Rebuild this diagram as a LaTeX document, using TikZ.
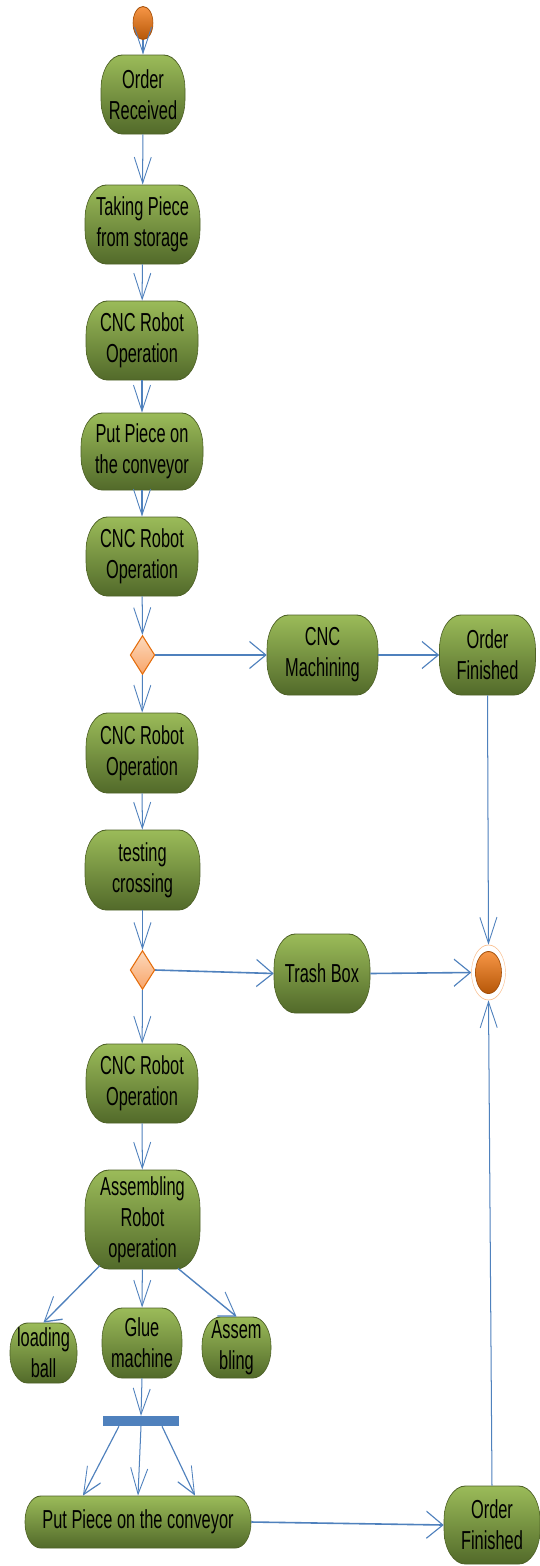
\documentclass[tikz,border=0pt]{standalone}
\usepackage{fontspec}
\setmainfont{Liberation Sans}
\usetikzlibrary{arrows.meta,shapes.geometric,calc}
\definecolor{conn}{HTML}{4F81BD}
\definecolor{gtop}{HTML}{9BBB59}
\definecolor{gbot}{HTML}{526A2A}
\definecolor{gline}{HTML}{4F6228}
\definecolor{otop}{HTML}{F79646}
\definecolor{obot}{HTML}{B65708}
\definecolor{oline}{HTML}{A34E08}
\definecolor{dtop}{HTML}{FCD9BC}
\definecolor{dbot}{HTML}{F8A56A}
\definecolor{dline}{HTML}{E46C0A}
\definecolor{ring}{HTML}{FAC090}
\tikzset{
  act/.style={rectangle, draw=gline, line width=0.9pt, top color=gtop, bottom color=gbot,
    rounded corners=#1, inner sep=0pt, align=center, text=black,
    font=\fontsize{26}{31}\selectfont},
  act/.default=34pt,
  sz/.style 2 args={minimum width=#1*1.5873pt, minimum height=#2*1pt},
  flow/.style={draw=conn, line width=1.6pt,
    -{Straight Barb[length=26pt,width=27pt,line width=1.3pt]}},
  dec/.style={diamond, draw=dline, line width=1.4pt, top color=dtop, bottom color=dbot,
    minimum width=39pt, minimum height=39pt, inner sep=0pt, aspect=1},
  startdot/.style={ellipse, draw=oline, line width=0.9pt, top color=otop, bottom color=obot,
    minimum width=31.7pt, minimum height=33pt, inner sep=0pt},
  endring/.style={ellipse, draw=ring, line width=0.7pt, fill=white,
    minimum width=54pt, minimum height=55pt, inner sep=0pt},
  bar/.style={rectangle, fill=conn, inner sep=0pt}
}
\begin{document}
\begin{tikzpicture}
\path[fill=white, use as bounding box] (0pt,0pt) rectangle (540pt,-1566pt);
\begin{scope}[transform canvas={xscale=0.63}, x=1.5873pt, y=-1pt]
  % nodes
  \node[startdot] (start) at (143,23) {};
  \node[act, sz={84}{79}] (or) at (143,94.5) {Order\\Received};
  \node[act, sz={115}{79}] (take) at (142.5,224.5) {Taking Piece\\from storage};
  \node[act, sz={112}{79}] (cnc1) at (142,340.5) {CNC Robot\\Operation};
  \node[act, sz={122}{77}] (put1) at (142,451.5) {Put Piece on\\the conveyor};
  \node[act, sz={112}{79}] (cnc2) at (142,556.5) {CNC Robot\\Operation};
  \node[dec] (d1) at (142.5,655) {};
  \node[act, sz={111}{80}] (mach) at (322.5,655) {CNC\\Machining};
  \node[act, sz={96}{80}] (of1) at (487.5,655) {Order\\Finished};
  \node[act, sz={112}{80}] (cnc3) at (142,753) {CNC Robot\\Operation};
  \node[act, sz={115}{80}] (test) at (142.5,870) {testing\\crossing};
  \node[dec] (d2) at (142.5,970) {};
  \node[act, sz={96}{79}] (trash) at (322,973.5) {Trash Box};
  \node[endring] (endo) at (488.5,972.5) {};
  \node[startdot, minimum width=41.3pt, minimum height=42pt] (endi) at (488.5,972.5) {};
  \node[act, sz={112}{79}] (cnc4) at (142,1083.5) {CNC Robot\\Operation};
  \node[act=38pt, sz={115}{99}] (aro) at (142.5,1219.5) {Assembling\\Robot\\operation};
  \node[act=28pt, sz={67}{60}] (load) at (43.5,1353) {loading\\ball};
  \node[act=32pt, sz={80}{70}] (glue) at (142,1343) {Glue\\machine};
  \node[act=29pt, sz={69}{61}] (asm) at (236.5,1347.5) {Assem\\bling};
  \node[bar, sz={76}{10}] (bar) at (141,1421) {};
  \node[act=25pt, sz={226}{52}] (put2) at (138,1522) {Put Piece on the conveyor};
  \node[act, sz={96}{78}] (of2) at (492,1525) {Order\\Finished};
  % connectors
  \draw[flow] (start) -- (or);
  \draw[flow] (or) -- (take);
  \draw[flow] (take) -- (cnc1);
  \draw[flow] (cnc1) -- (put1);
  \draw[flow] (put1) -- (cnc2);
  \draw[flow] (cnc2) -- (d1);
  \draw[flow] (d1) -- (mach);
  \draw[flow] (mach) -- (of1);
  \draw[flow] (d1) -- (cnc3);
  \draw[flow] (cnc3) -- (test);
  \draw[flow] (test) -- (d2);
  \draw[flow] (d2.east) -- (trash.west);
  \draw[flow] (trash.east) -- (endo.west);
  \draw[flow] (of1.south) -- (endo.north);
  \draw[flow] (of2.north) -- (endo.south);
  \draw[flow] (d2) -- (cnc4);
  \draw[flow] (cnc4) -- (aro);
  \draw[flow] ($(aro.south)+(-42.5,-4)$) -- (load.north);
  \draw[flow] (aro) -- (glue);
  \draw[flow] ($(aro.south)+(35.5,-1)$) -- (asm.north);
  \draw[flow] (glue.south) -- (bar.north);
  \draw[flow] ($(bar.south)+(-22,0)$) -- ($(put2.north)+(-55,0)$);
  \draw[flow] (bar.south) -- ($(put2.north)+(0,0)$);
  \draw[flow] ($(bar.south)+(21,0)$) -- ($(put2.north)+(57,0)$);
  \draw[flow] (put2.east) -- (of2.west);
\end{scope}
\end{tikzpicture}
\end{document}
